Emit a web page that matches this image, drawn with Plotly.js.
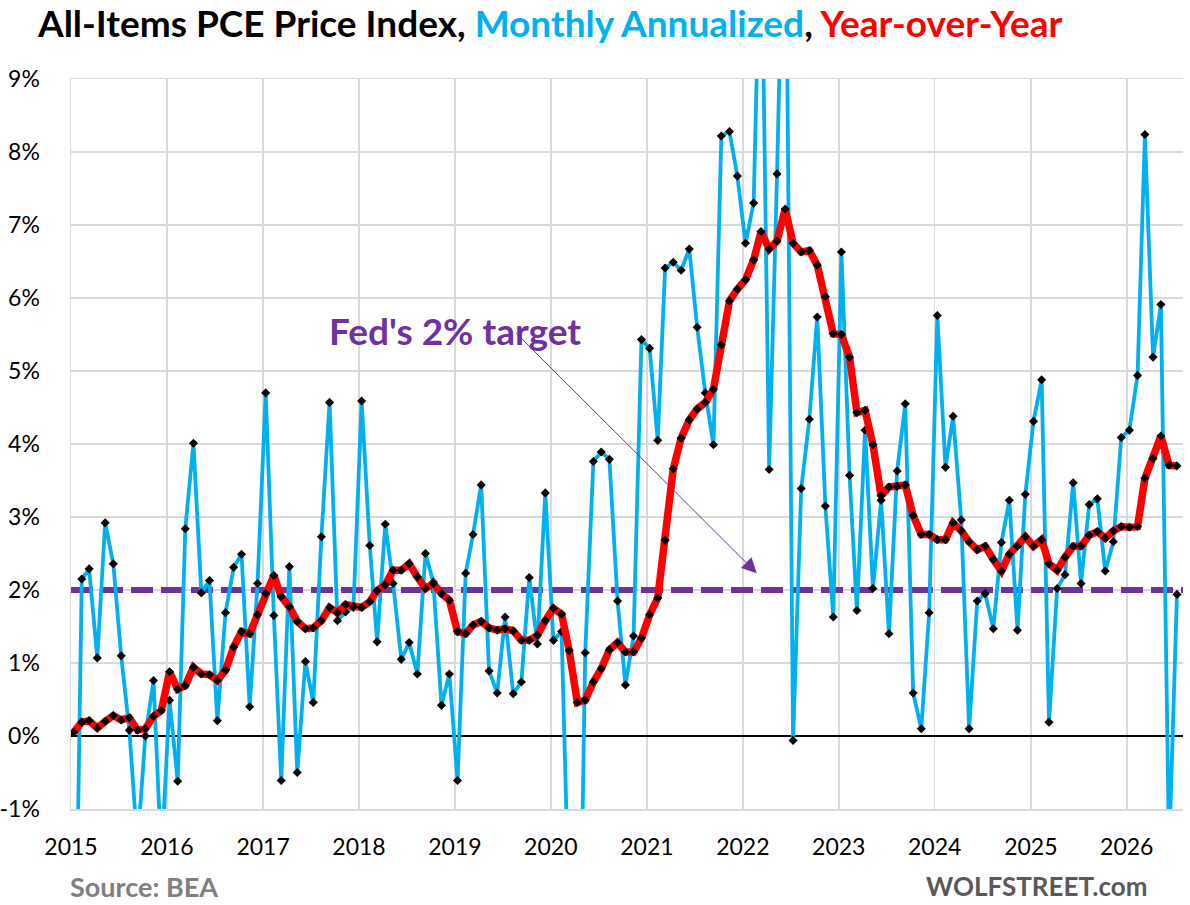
<!DOCTYPE html>
<html>
<head>
<meta charset="utf-8">
<script src="https://cdn.plot.ly/plotly-3.0.1.min.js"></script>
<style>
  html, body { margin: 0; padding: 0; background: #fff; }
  #chart { width: 1190px; height: 905px; }
</style>
</head>
<body>
<div id="chart"></div>
<script>
// ---- Data ----
// Monthly observations, Jan 2015 ... Jul 2026
const firstYear = 2015;
const firstMonth = 1;

// Monthly change, annualized (%) — values beyond the axis range are clipped in the chart
const monthlyAnnualized = [
  -5.0, 2.15, 2.29, 1.07, 2.92, 2.36, 1.10, 0.08, -1.5, 0.00, 0.76, -1.7,
  0.49, -0.62, 2.84, 4.01, 1.96, 2.13, 0.21, 1.69, 2.31, 2.49, 0.40, 2.09,
  4.70, 1.65, -0.61, 2.32, -0.50, 1.02, 0.46, 2.73, 4.57, 1.58, 1.70, 1.76,
  4.59, 2.61, 1.29, 2.90, 2.09, 1.05, 1.28, 0.85, 2.50, 2.11, 0.42, 0.85,
  -0.61, 2.23, 2.76, 3.44, 0.89, 0.59, 1.63, 0.58, 0.74, 2.17, 1.26, 3.33,
  1.31, 1.43, -2.5, -5.5, 1.14, 3.76, 3.89, 3.79, 1.85, 0.70, 1.37, 5.43,
  5.31, 4.05, 6.41, 6.49, 6.38, 6.67, 5.60, 4.70, 3.99, 8.22, 8.28, 7.67,
  6.75, 7.30, 11.5, 3.65, 7.70, 12.5, -0.06, 3.39, 4.34, 5.74, 3.15, 1.63,
  6.63, 3.57, 1.72, 4.19, 2.02, 3.23, 1.40, 3.63, 4.55, 0.59, 0.10, 1.69,
  5.76, 3.68, 4.38, 2.96, 0.10, 1.85, 1.95, 1.47, 2.65, 3.23, 1.45, 3.31,
  4.31, 4.88, 0.19, 2.02, 2.21, 3.47, 2.09, 3.17, 3.25, 2.26, 2.66, 4.09,
  4.19, 4.94, 8.24, 5.19, 5.91, -1.6, 1.94
];

// Year-over-year change (%)
const yearOverYear = [
  0.05, 0.19, 0.21, 0.11, 0.20, 0.28, 0.22, 0.25, 0.08, 0.10, 0.27, 0.35,
  0.88, 0.64, 0.69, 0.94, 0.85, 0.84, 0.76, 0.90, 1.22, 1.43, 1.40, 1.66,
  1.95, 2.20, 1.91, 1.77, 1.57, 1.47, 1.48, 1.58, 1.76, 1.69, 1.80, 1.77,
  1.76, 1.84, 1.99, 2.07, 2.27, 2.27, 2.36, 2.18, 2.02, 2.09, 1.95, 1.86,
  1.43, 1.40, 1.52, 1.57, 1.48, 1.45, 1.47, 1.44, 1.31, 1.31, 1.38, 1.58,
  1.75, 1.67, 1.17, 0.46, 0.49, 0.74, 0.92, 1.18, 1.28, 1.15, 1.15, 1.34,
  1.66, 1.89, 2.68, 3.66, 4.08, 4.33, 4.48, 4.57, 4.75, 5.36, 5.96, 6.12,
  6.25, 6.52, 6.91, 6.67, 6.78, 7.22, 6.75, 6.63, 6.65, 6.45, 6.02, 5.51,
  5.50, 5.19, 4.43, 4.46, 3.99, 3.29, 3.41, 3.42, 3.44, 3.02, 2.76, 2.76,
  2.69, 2.69, 2.92, 2.81, 2.66, 2.55, 2.60, 2.42, 2.26, 2.49, 2.60, 2.73,
  2.60, 2.69, 2.36, 2.27, 2.45, 2.60, 2.60, 2.75, 2.80, 2.71, 2.81, 2.87,
  2.86, 2.87, 3.53, 3.80, 4.11, 3.71, 3.70
];

const fedTarget = 2;
const yTickVals = [-1, 0, 1, 2, 3, 4, 5, 6, 7, 8, 9];
const yTickText = ['-1%', '0%', '1%', '2%', '3%', '4%', '5%', '6%', '7%', '8%', '9%'];
const xTickYears = [2015, 2016, 2017, 2018, 2019, 2020, 2021, 2022, 2023, 2024, 2025, 2026];

// month categories as dates
const months = monthlyAnnualized.map((_, i) => {
  const y = firstYear + Math.floor((firstMonth - 1 + i) / 12);
  const m = ((firstMonth - 1 + i) % 12) + 1;
  return y + '-' + String(m).padStart(2, '0') + '-11';
});

const FONT = 'Lato, "Open Sans", "DejaVu Sans", sans-serif';
const BLUE = '#00B0F0';
const RED = '#FF0000';
const PURPLE = '#7030A0';

const xStart = '2015-01-01';
const xEnd = '2026-08-03';

const traces = [
  {
    x: [xStart, xEnd],
    y: [fedTarget, fedTarget],
    type: 'scatter',
    mode: 'lines',
    line: { color: PURPLE, width: 6, dash: '22px,8px' },
    hoverinfo: 'skip',
    showlegend: false
  },
  {
    x: months,
    y: monthlyAnnualized,
    type: 'scatter',
    mode: 'lines+markers',
    name: 'Monthly Annualized',
    line: { color: BLUE, width: 3.8 },
    marker: { symbol: 'diamond', color: '#000', size: 7 },
    showlegend: false
  },
  {
    x: months,
    y: yearOverYear,
    type: 'scatter',
    mode: 'lines+markers',
    name: 'Year-over-Year',
    line: { color: RED, width: 7.5 },
    marker: { symbol: 'diamond', color: '#000', size: 7 },
    showlegend: false
  }
];

const layout = {
  width: 1190,
  height: 905,
  autosize: false,
  paper_bgcolor: '#fff',
  plot_bgcolor: '#fff',
  margin: { l: 71, r: 7, t: 79, b: 96 },
  font: { family: FONT, color: '#000', size: 23 },
  title: {
    text: '<b>All-Items PCE Price Index, <span style="color:' + BLUE + '">Monthly Annualized</span>, <span style="color:' + RED + '">Year-over-Year</span></b>',
    font: { family: FONT, size: 37, color: '#000' },
    x: 38 / 1190,
    xanchor: 'left',
    xref: 'container',
    y: 1 - 24 / 905,
    yanchor: 'middle',
    yref: 'container'
  },
  xaxis: {
    type: 'date',
    range: [xStart, xEnd],
    tickvals: xTickYears.map(y => y + '-01-01'),
    ticktext: xTickYears.map(String),
    showgrid: true,
    gridcolor: '#D9D9D9',
    gridwidth: 1.5,
    showline: true,
    linecolor: '#D9D9D9',
    linewidth: 1.5,
    mirror: true,
    ticks: '',
    ticklabelstandoff: 17,
    tickfont: { family: FONT, size: 23, color: '#000' },
    zeroline: false,
    fixedrange: true
  },
  yaxis: {
    range: [-1, 9],
    tickvals: yTickVals,
    ticktext: yTickText,
    showgrid: true,
    gridcolor: '#D9D9D9',
    gridwidth: 1.5,
    showline: true,
    linecolor: '#D9D9D9',
    linewidth: 1.5,
    ticks: '',
    ticklabelstandoff: 25,
    tickfont: { family: FONT, size: 23, color: '#000' },
    zeroline: true,
    zerolinecolor: '#000',
    zerolinewidth: 2,
    fixedrange: true
  },
  annotations: [
    {
      text: "<b>Fed's 2% target</b>",
      x: '2019-01-03', y: 5.56,
      xref: 'x', yref: 'y',
      showarrow: false,
      font: { family: FONT, size: 37, color: PURPLE },
      xanchor: 'center', yanchor: 'middle'
    },
    {
      text: '',
      x: '2022-02-23', y: 2.23,
      ax: '2019-08-16', ay: 5.54,
      xref: 'x', yref: 'y', axref: 'x', ayref: 'y',
      showarrow: true,
      arrowhead: 2,
      arrowsize: 3,
      arrowwidth: 1,
      arrowcolor: PURPLE
    },
    {
      text: '<b>Source: BEA</b>',
      xref: 'paper', yref: 'paper',
      x: (68 - 71) / 1112, y: -(886 - 809) / 730,
      xanchor: 'left', yanchor: 'middle',
      showarrow: false,
      font: { family: FONT, size: 27, color: '#7F7F7F' }
    },
    {
      text: '<b>WOLFSTREET.com</b>',
      xref: 'paper', yref: 'paper',
      x: (1150 - 71) / 1112, y: -(886 - 809) / 730,
      xanchor: 'right', yanchor: 'middle',
      showarrow: false,
      font: { family: FONT, size: 26, color: '#595959' }
    }
  ]
};

Plotly.newPlot('chart', traces, layout, { displayModeBar: false, staticPlot: true });
</script>
</body>
</html>
